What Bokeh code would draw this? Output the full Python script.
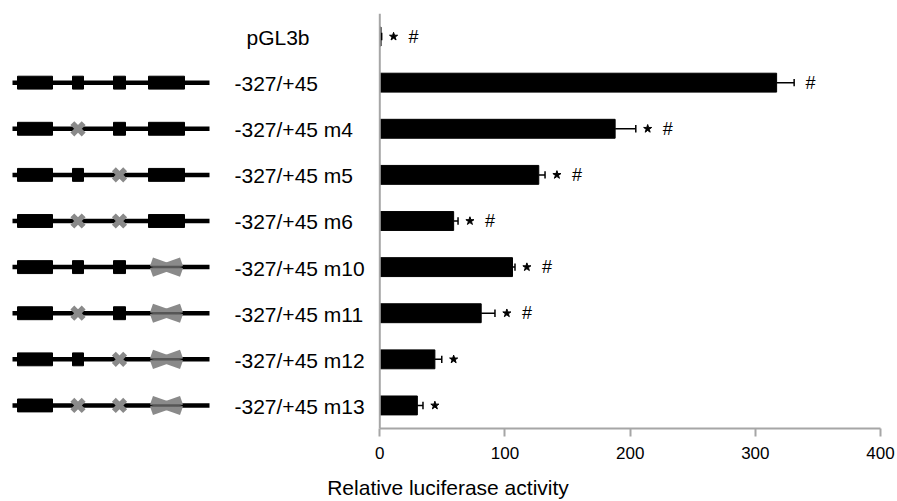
from bokeh.plotting import figure
from bokeh.models import Range1d, Span, FixedTicker
from bokeh.embed import file_html
from bokeh.resources import INLINE
from bokeh.core.properties import value

# ---------------- data ----------------
labels = ["pGL3b", "-327/+45", "-327/+45 m4", "-327/+45 m5", "-327/+45 m6",
          "-327/+45 m10", "-327/+45 m11", "-327/+45 m12", "-327/+45 m13"]
activity = [1, 317, 188, 127, 59, 106, 81, 44, 30]
errors = [0.5, 14, 16.5, 5, 3.5, 2, 11, 5.5, 4.5]
star_flag = [True, False, True, True, True, True, True, True, True]
hash_flag = [True, True, True, True, True, True, True, False, False]
has_diagram = [False, True, True, True, True, True, True, True, True]
mutated_sites = [[], [], [2], [3], [2, 3], [4], [2, 4], [3, 4], [2, 3, 4]]
x_ticks = [0, 100, 200, 300, 400]

# ---------------- layout constants ----------------
PX = 1.2518            # pixels per data unit
X0_PAGE = 379.3        # page x of value 0
FRAME_W = 895
x_start = -X0_PAGE / PX
x_end = x_start + FRAME_W / PX

FONT = "Liberation Sans"
GREY_AX = "#a6a6a6"
GREY_MUT = "#8a8a8a"

def px2d(px):
    return (px - X0_PAGE) / PX

ys = list(range(len(labels)))

p = figure(frame_width=FRAME_W, frame_height=415,
           x_range=Range1d(x_start, x_end), y_range=Range1d(8.5, -0.5),
           output_backend="svg", toolbar_location=None,
           y_axis_location=None, x_axis_location="below",
           min_border_left=0, min_border_right=0, min_border_top=13, min_border_bottom=0)
p.xgrid.visible = False
p.ygrid.visible = False
p.outline_line_color = None
p.background_fill_color = "white"
p.border_fill_color = "white"

ax = p.xaxis[0]
ax.bounds = (0, 400)
ax.ticker = FixedTicker(ticks=x_ticks)
ax.minor_tick_line_color = None
ax.major_tick_in = 0
ax.major_tick_out = 8
ax.axis_line_color = GREY_AX
ax.axis_line_width = 2
ax.major_tick_line_color = GREY_AX
ax.major_tick_line_width = 2
ax.major_label_text_font = FONT
ax.major_label_text_font_size = "17px"
ax.major_label_text_color = "black"
ax.major_label_standoff = 10
ax.axis_label = "Relative luciferase activity"
ax.axis_label_text_font = FONT
ax.axis_label_text_font_size = "21px"
ax.axis_label_text_font_style = "normal"
ax.axis_label_text_color = "black"
ax.axis_label_standoff = 14

p.add_layout(Span(location=0, dimension="height", line_color=GREY_AX, line_width=2))

# ---------------- bars + error bars ----------------
err_end = [a + e for a, e in zip(activity, errors)]
p.hbar(y=ys, left=0, right=activity, height=0.41, fill_color="black", line_color="black")
p.segment(x0=activity, y0=ys, x1=err_end, y1=ys, line_color="black", line_width=1.5)
p.segment(x0=err_end, y0=[y - 0.08 for y in ys], x1=err_end, y1=[y + 0.08 for y in ys],
          line_color="black", line_width=1.5)

# ---------------- significance marks ----------------
star_x, star_y, hash_x, hash_y = [], [], [], []
for y, e, s, h in zip(ys, err_end, star_flag, hash_flag):
    sx = e + 9.5
    if s:
        star_x.append(sx)
        star_y.append(y)
    if h:
        hash_x.append(sx + 16 if s else e + 13)
        hash_y.append(y)
p.scatter(x=star_x, y=star_y, marker="star", size=8.5, color="black")
p.text(x=hash_x, y=hash_y, text=["#"] * len(hash_x), text_font=value(FONT),
       text_font_size="18px", text_align="center", text_baseline="middle", text_color="black")

# ---------------- construct labels ----------------
label_x = [px2d(234) if d else px2d(246) for d in has_diagram]
p.text(x=label_x, y=[y + 0.02 for y in ys], text=labels, text_font=value(FONT),
       text_font_size="21px", text_align="left", text_baseline="middle", text_color="black")

# ---------------- construct diagrams ----------------
line_l, line_r = px2d(12), px2d(209)
site_cx = {1: px2d(34.5), 2: px2d(77.5), 3: px2d(119), 4: px2d(166)}
site_w = {1: 35 / PX, 2: 11 / PX, 3: 12 / PX, 4: 36 / PX}
big_l, big_r = px2d(151), px2d(181)

dy = [y for y, d in zip(ys, has_diagram) if d]
dm = [m for m, d in zip(mutated_sites, has_diagram) if d]

p.segment(x0=[line_l] * len(dy), y0=dy, x1=[line_r] * len(dy), y1=dy,
          line_color="black", line_width=4.5)

# big X (site 4 mutated)
bx0, by0, bx1, by1 = [], [], [], []
for y, m in zip(dy, dm):
    if 4 in m:
        bx0 += [big_l, big_l]
        by0 += [y - 0.115, y + 0.115]
        bx1 += [big_r, big_r]
        by1 += [y + 0.115, y - 0.115]
p.segment(x0=bx0, y0=by0, x1=bx1, y1=by1, line_color=GREY_MUT, line_width=9)

# thin dark core of the line visible through the big X
cx0 = [big_l for y, m in zip(dy, dm) if 4 in m]
cyy = [y for y, m in zip(dy, dm) if 4 in m]
p.segment(x0=cx0, y0=cyy, x1=[big_r] * len(cx0), y1=cyy, line_color="#333333",
          line_width=2.5, line_alpha=0.6)

rx, ry, rw, sx_, sy_ = [], [], [], [], []
for y, m in zip(dy, dm):
    for s in (1, 2, 3, 4):
        if s not in m:
            rx.append(site_cx[s])
            ry.append(y)
            rw.append(site_w[s])
        elif s in (2, 3):
            sx_.append(site_cx[s])
            sy_.append(y)
p.rect(x=rx, y=ry, width=rw, height=0.28, fill_color="black", line_color="black")
p.scatter(x=sx_, y=sy_, marker="x", size=16, line_color=GREY_MUT, line_width=5.5)

open("out.html", "w").write(file_html(p, INLINE))
